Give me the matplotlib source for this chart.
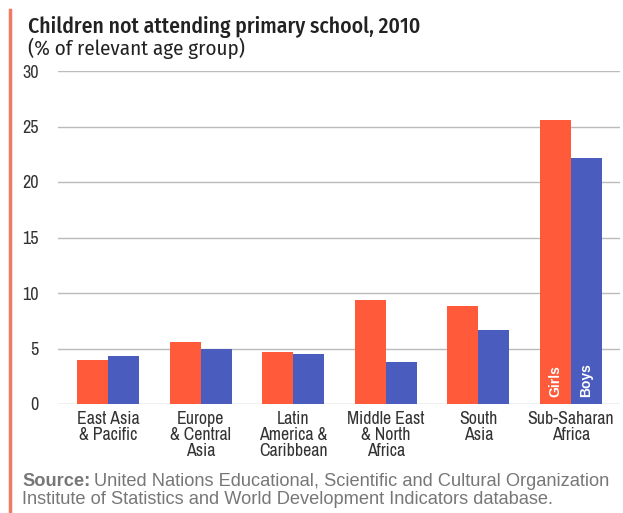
import matplotlib.pyplot as plt
import numpy as np

regions = ["East Asia\n& Pacific", "Europe\n& Central\nAsia", "Latin\nAmerica &\nCaribbean",
           "Middle East\n& North\nAfrica", "South\nAsia", "Sub-Saharan\nAfrica"]
girls = [4.0, 5.6, 4.7, 9.4, 8.8, 25.6]
boys = [4.3, 5.0, 4.5, 3.8, 6.7, 22.2]
yticks = [0, 5, 10, 15, 20, 25, 30]

girl_col = "#FF5A3A"
boy_col = "#4A5DBE"
cond = ["Archivo Narrow", "Roboto Condensed", "DejaVu Sans"]
headf = ["Fira Sans Condensed", "Roboto Condensed", "DejaVu Sans"]
wide = ["Liberation Sans", "DejaVu Sans"]

W, H = 623, 513
fig = plt.figure(figsize=(W / 100, H / 100), dpi=100)
ax = fig.add_axes([58 / W, 1 - 404 / H, (620 - 58) / W, (404 - 71) / H])

x = np.arange(len(regions))
w = 0.335
ax.bar(x - w / 2, girls, w, color=girl_col, zorder=3)
ax.bar(x + w / 2, boys, w, color=boy_col, zorder=3)

ax.set_xlim(-0.54, 5.53)
ax.set_ylim(0, 30)
ax.set_yticks(yticks)
ax.yaxis.grid(True, color="#bbbbbb", lw=1, zorder=0)
ax.tick_params(axis="y", length=0, pad=14, labelsize=13, labelcolor="#333333")
for lab in ax.get_yticklabels():
    lab.set_family(cond)
ax.tick_params(axis="x", length=0, pad=5)
ax.set_xticks(x)
ax.set_xticklabels(regions, family=cond, fontsize=12.8, color="#333333", linespacing=1.0)
for s in ax.spines.values():
    s.set_visible(False)

# labels inside the last pair of bars
ax.text(x[-1] - w / 2, 0.6, "Girls", rotation=90, color="white", fontweight="bold",
        family=wide, fontsize=10, ha="center", va="bottom", zorder=4)
ax.text(x[-1] + w / 2, 0.6, "Boys", rotation=90, color="white", fontweight="bold",
        family=wide, fontsize=10, ha="center", va="bottom", zorder=4)


def fit(t, target):
    # scale font so the text spans the same width as in the reference
    fig.canvas.draw()
    bb = t.get_window_extent()
    t.set_fontsize(t.get_fontsize() * target / bb.width)


# title
t1 = fig.text(28 / W, 1 - 27 / H, "Children not attending primary school, 2010",
              family=headf, fontweight=500, fontsize=14, color="#222222", va="center")
t2 = fig.text(28 / W, 1 - 48 / H, "(% of relevant age group)",
              family=headf, fontsize=14, color="#222222", va="center")
fit(t1, 390)
fit(t2, 218)

# source
src = fig.text(22 / W, 1 - 482 / H, "Source:", family=wide, fontweight="bold",
               fontsize=11, color="#777777", va="center")
s1 = fig.text(80 / W, 1 - 482 / H,
              "United Nations Educational, Scientific and Cultural Organization",
              family=wide, fontsize=11, color="#777777", va="center")
s2 = fig.text(22 / W, 1 - 500 / H, "Institute of Statistics and World Development Indicators database.",
              family=wide, fontsize=11, color="#777777", va="center")
fit(s2, 530)
src.set_fontsize(s2.get_fontsize())
s1.set_fontsize(s2.get_fontsize())
fig.canvas.draw()
bb = src.get_window_extent()
s1.set_x((bb.x1 + 4) / W)

# left accent rule
fig.add_artist(plt.Line2D([10 / W, 10 / W], [0, 1 - 10 / H], color="#F07A63", lw=2.5))

fig.savefig("out.png", dpi=100)
